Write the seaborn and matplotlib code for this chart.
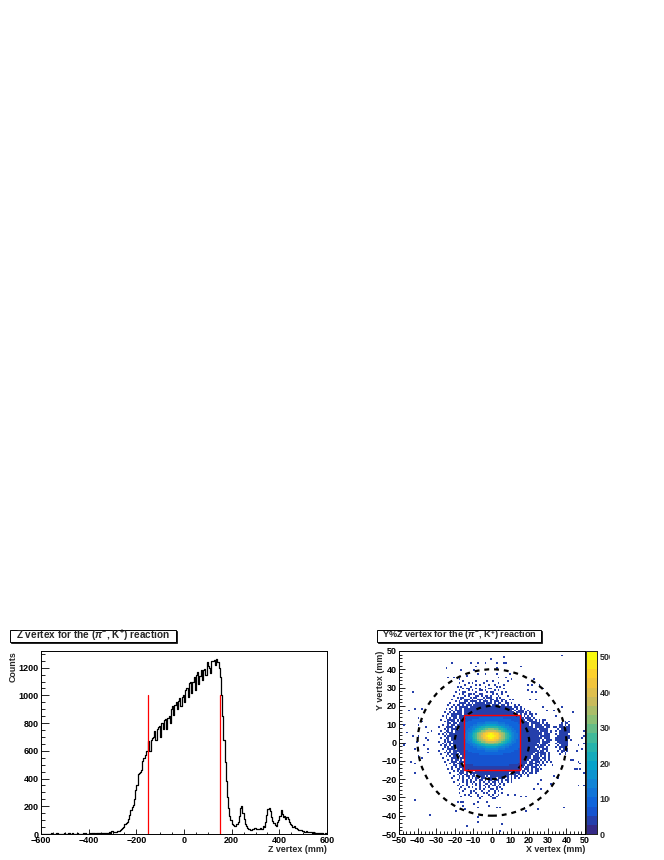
import matplotlib
matplotlib.use("Agg")
import matplotlib.pyplot as plt
import matplotlib.patches as mpatches
from matplotlib.colors import LinearSegmentedColormap
from matplotlib.ticker import MultipleLocator
from matplotlib.transforms import Bbox
import numpy as np
import seaborn as sns

# Z vertex spectrum, 5 mm bins from -600 to 600
z_counts = [
    1, 0, 2, 1, 3, 1, 0, 2, 4, 2, 1, 3, 2, 5, 1, 2, 3, 1, 2, 4,
    2, 3, 1, 4, 2, 3, 5, 2, 1, 3, 4, 2, 3, 1, 3, 4, 2, 5, 3, 2,
    4, 3, 5, 4, 6, 3, 5, 7, 4, 6, 5, 8, 6, 4, 7, 9, 6, 18, 8, 20,
    12, 15, 18, 17, 22, 25, 28, 33, 40, 52, 70, 78, 90, 108, 140, 172, 192, 210, 255, 320,
    350, 430, 440, 445, 460, 530, 550, 570, 600, 600, 670, 600, 680, 690, 700, 740, 680, 760, 770, 780,
    700, 800, 760, 820, 830, 760, 835, 850, 800, 900, 920, 860, 930, 950, 900, 960, 980, 920, 990, 1000,
    950, 1040, 1050, 990, 1090, 1095, 1020, 1100, 1130, 1040, 1150, 1170, 1080, 1140, 1180, 1110, 1185, 1190, 1150, 1240,
    1210, 1200, 1160, 1250, 1250, 1255, 1220, 1260, 1240, 1200, 1130, 1000, 850, 680, 520, 380, 270, 190, 130, 100,
    75, 65, 58, 60, 72, 85, 130, 190, 205, 150, 105, 75, 55, 42, 35, 30, 32, 38, 34, 40,
    36, 33, 38, 35, 40, 36, 55, 48, 90, 140, 180, 190, 165, 120, 95, 80, 65, 60, 85, 100,
    130, 170, 145, 120, 130, 110, 125, 105, 90, 70, 65, 50, 55, 40, 42, 35, 30, 28, 26, 22,
    20, 18, 20, 15, 14, 12, 15, 10, 12, 9, 8, 10, 7, 6, 5, 7, 4, 3, 4, 2,
]

# palette level per 1 mm bin, right half of each row from x=-1 outwards,
# rows y=14 down to y=-15 inside the red box (0-9 then a-j)
core_rows = [
    "22222222222222222", "33333332222222222", "33333333333222222", "44443333333332222",
    "55554444333333322", "77766555443333333", "99998876554433333", "ccbba998755443333",
    "eeedcca9876544333", "hhgfedcb987554333", "jihhgedca97654433", "jjihgfdca98654433",
    "jihhgedca97654433", "hhgfedcb987554333", "eeedcca9876544333", "ccbba998755443333",
    "99998876554433333", "77766555443333333", "55554444333333322", "44443333333332222",
    "33333333333222222", "33333332222222222", "22222222222222222", "22222222222222222",
    "22222222222222222", "22222222222222222", "22222222222222211", "22222222221111111",
    "11111111111111111", "11111111111111111",
]
core_center_x = -1
core_top_y = 14

# halo around the box, 1 mm bins, x=-30 onwards, rows y=33 downwards
halo_rows = [
    "..............#......#.....#..#.......#.........................",
    "............#....#.#.....#.......#..............................",
    "...............#.....#.#....#..#....#...........................",
    "...........#.#....#.......#.....#.#.............................",
    "..............#.##...#.#....##......#...........................",
    "............#....#.#...##.#....#.#..............................",
    "..........#...##.....#.....#.##....#.#..........................",
    "............#.#..##.#..##.....#.#..#............................",
    ".........#.....#.#...##.#.##.#...#....#.........................",
    "...........#.##...#.##...#.###..#.#.............................",
    "........#....#.###.#..###.#..##.#..##..#.#......................",
    "..........#.#..##.####.#.###.#.###.#.#..........................",
    ".......#....####.#.#.#####.###.#.##..##.#.......................",
    "......#..#.##.#.###.#########.####.##.#...#.#...................",
    "........#.#.#####.#######################.##.#...................",
    ".....#.#..#.##.###########################.#.#.#.................",
    "........#.####.##########################.#.###..#...............",
    "....#..#.#.###.###########################.####.#.#..............",
    "......#.######.#############################.#.##.##.#...........",
    "...#.#..###.##################################.#.#.#.............",
    ".....#.#.##.###################################.###.#............",
    "..#...####.#.###################################.###.#.#.#.......",
    "....#.#.##.#.####################################.####.#.#.......",
    "......##.##.######################################.#####.#.#.....",
    "...#..#.##.#######################################.#.####.###....",
    ".#...####.##########################################.#####.##....",
    "....#.#.###.##########################################.#####.....",
    "..#..##.#.#############################################.####.#...",
    "....#.###.###############################################.##.#...",
    ".#.#.#.##################################################.###....",
    "....#.#################################################.#####....",
    "..#..##.#################################################.###....",
    "....#.#.################################################.#.###...",
    ".#..#.##.###############################################.####....",
    "...#.#.###############################################.#.###.....",
    "..#.##.#.##############################################.###.#....",
    "....#.#.#############################################.####.#.....",
    "...#..####.###########################################.#.###.....",
    ".#...#.#.##############################################.##.#.....",
    "....#.##.##.#########################################.#####.#....",
    "..#...#.####.#######################################.##.###.#....",
    ".....#.#.##.#.#####################################.###.#.#.#.....",
    "...#....####.######################################.####.##.#....",
    "......#.#.##.#.###################################.####.#.#.#.....",
    "....#...###.###.#################################.##.###.#.#.#....",
    ".......#.#.###.#.################################.####.#.#.......",
    ".....#...##.##.###.#############################.###.##.#.#......",
    "........#.#.###.###############################.##.###.#.........",
    "......#.#..##.#.##############################.###.#.##.#........",
    ".........#.#.##.#.##.########################.##.#.#.##..........",
    ".......#....###.#.#####################.#####.#.#.##.#...........",
    "...........#.#.##.#.#.##################.##.##.#.#...............",
    ".........#..#.#.##.##.####.#.##########.#.##.#...#..............",
    "........#...#.#..#.#.##.###.####.####.#.#.#.#...................",
    "...........#..#.#.#..#.##.#.##.###.#.##.#.......................",
    ".........#....#.#.#.#..#.#..#.##.#.#..#.#.......................",
    "............#...#..#.#.#..##.#.#..#.#...........................",
    "...........#..#.#....#.#.#..#.##.#..#...........................",
    ".............#...#.#...#..#.#...#.#.............................",
    "............#..#.....#.#.#...##.#..#............................",
    "..............#...#.#...#...#..#.#..............................",
    "............#.....#..#...#.#...#...#............................",
    "...............#.#....#.....#.#..#...............................",
    ".............#....#...#.#....#..#...............................",
]
halo_left_x = -30
halo_top_y = 33

# the small lobe on the right of the target, x=33 onwards, rows y=11 downwards
lobe_rows = [
    "......#.#",
    "....#.##.",
    "...##.#.#",
    ".#.###.##",
    "..#.#####",
    ".#.######",
    "...######",
    ".#.#####.",
    "..#######",
    ".########",
    ".#######.",
    "..######.",
    ".#.#####.",
    "..#.####.",
    ".#.####..",
    "...#.###.",
    "..#.##.#.",
    "....#.#..",
    "...#..#..",
]
lobe_left_x = 33
lobe_top_y = 11

# single isolated bins (x, y), upper left, upper right, lower left, lower right
sparse_cells = [
    (-17,50),(-1,45),(-22,43),(-12,43),(-8,43),(-4,43),(-25,40),(-9,41),(-17,39),(-10,39),(-8,37),(-4,37),
    (-24,35),(-21,35),(-18,34),(-14,36),(-43,27),(-42,18),(-45,17),(-38,18),(-40,13),(-38,11),(-48,9),(-40,9),
    (-36,8),(-33,6),(-35,5),(-46,5),(-40,7),(-43,3),(-40,3),(-36,2),(-41,0),(-35,1),
    (37,47),(6,46),(2,43),(6,43),(7,43),(15,41),(2,40),(2,37),(9,37),(7,35),(10,34),(3,35),(22,34),
    (19,31),(21,31),(25,31),(27,29),(19,28),(21,27),(23,27),(20,23),(23,23),(27,19),(29,17),(43,16),(33,17),(34,14),
    (37,19),(28,12),(33,8),(49,6),(48,2),(49,3),(42,1),
    (-48,-2),(-47,-1),(-42,-4),(-42,-17),(-44,-11),(-42,-12),(-37,-2),(-35,-4),(-40,-8),(-38,-9),(-35,-6),
    (-42,-32),(-34,-40),(-17,-33),(-19,-33),(-16,-33),(-16,-35),(-20,-38),(-15,-37),(-14,-46),(-8,-36),(-8,-41),(-8,-44),
    (-10,-34),(-8,-33),(-3,-33),(0,-31),(-7,-31),(-2,-35),
    (48,-4),(49,-1),(46,-2),(45,-5),(46,-11),(47,-12),(45,-15),(47,-15),(49,-17),(44,-15),(46,-24),(49,-24),(42,-10),
    (43,-10),(38,-36),(37,-14),(33,-19),(35,-20),(31,-23),(26,-21),(24,-23),(22,-26),(26,-26),
    (8,-29),(12,-29),(18,-30),(15,-30),(1,-31),(4,-36),(2,-36),
    (17,-36),(24,-37),(18,-38),(5,-45),(4,-49),(32,-13),
]

level_codes = "0123456789abcdefghij"
z_ticks = [-600, -400, -200, 0, 200, 400, 600]
xy_ticks = list(range(-50, 51, 10))
z_cut = [-150, 150]
bird = [(0.2082, 0.1664, 0.5293), (0.0592, 0.3599, 0.8684), (0.0780, 0.5041, 0.8385),
        (0.0232, 0.6419, 0.7914), (0.1802, 0.7178, 0.6425), (0.5301, 0.7492, 0.4662),
        (0.8186, 0.7328, 0.3499), (0.9956, 0.7862, 0.1968), (0.9764, 0.9832, 0.0539)]

sns.set_theme(style="ticks")
plt.rcParams["font.family"] = ["Liberation Sans", "DejaVu Sans"]
plt.rcParams["font.weight"] = "bold"
plt.rcParams["font.size"] = 6.5
plt.rcParams["axes.linewidth"] = 0.7
plt.rcParams["mathtext.fontset"] = "custom"
plt.rcParams["mathtext.rm"] = "Liberation Sans:bold"
plt.rcParams["mathtext.it"] = "Liberation Sans:italic:bold"
plt.rcParams["mathtext.bf"] = "Liberation Sans:bold"

W, H = 664, 860
fig = plt.figure(figsize=(W / 100, H / 100), dpi=100)


def px_axes(x0, y0, x1, y1):
    # pixel box, y counted from the top of the picture
    return fig.add_axes([x0 / W, 1 - y1 / H, (x1 - x0) / W, (y1 - y0) / H])


def title_box(x0, y0, x1, y1, text, size):
    box = dict(transform=fig.transFigure, clip_on=False)
    fig.add_artist(mpatches.Rectangle(((x0 + 1) / W, 1 - (y1 + 1) / H), (x1 - x0) / W, (y1 - y0) / H,
                                      facecolor="black", edgecolor="black", lw=0.5, **box))
    fig.add_artist(mpatches.Rectangle((x0 / W, 1 - y1 / H), (x1 - x0) / W, (y1 - y0) / H,
                                      facecolor="white", edgecolor="black", lw=0.7, **box))
    fig.text((x0 + x1) / 2 / W, 1 - (y0 + y1) / 2 / H, text, ha="center", va="center",
             fontsize=size, fontweight="bold")


def style_axis(ax, xlen, ylen):
    ax.tick_params(which="both", direction="in", top=False, right=False, width=0.6,
                   labelsize=6.5, colors="black")
    ax.tick_params(axis="x", which="major", length=xlen, pad=1.5)
    ax.tick_params(axis="x", which="minor", length=xlen / 2)
    ax.tick_params(axis="y", which="major", length=ylen, pad=1.5)
    ax.tick_params(axis="y", which="minor", length=ylen / 2)
    for s in ax.spines.values():
        s.set_visible(True)
        s.set_color("black")
        s.set_linewidth(0.7)


# left panel
ax1 = px_axes(41, 651, 327, 834)
z_centers = np.arange(-600, 600, 5) + 2.5
sns.histplot(x=z_centers, weights=z_counts, bins=240, binrange=(-600, 600), element="step",
             fill=False, color="black", linewidth=0.9, ax=ax1)
for zc in z_cut:
    sns.lineplot(x=[zc, zc], y=[0, 1000], color="red", linewidth=0.9, estimator=None, ax=ax1)
ax1.set_xlim(-600, 600)
ax1.set_ylim(0, 1320)
ax1.set_xticks(z_ticks)
ax1.xaxis.set_minor_locator(MultipleLocator(50))
ax1.yaxis.set_major_locator(MultipleLocator(200))
ax1.yaxis.set_minor_locator(MultipleLocator(50))
style_axis(ax1, 3.6, 6)
ax1.set_xlabel("Z vertex (mm)", loc="right", fontsize=6.4, fontweight="bold", labelpad=0)
ax1.set_ylabel("Counts", loc="top", fontsize=6.4, fontweight="bold")
ax1.yaxis.set_label_coords(-0.08, 1.0)
title_box(9.5, 630, 176, 641.5, r"Z vertex for the ($\pi^{-}$, K$^{+}$) reaction", 7.2)

# right panel
ax2 = px_axes(399, 651, 585, 834)
cax = px_axes(586, 651, 597, 834)

grid = {}
for i, row in enumerate(halo_rows):
    for j, c in enumerate(row):
        if c == "#":
            grid[(halo_left_x + j, halo_top_y - i)] = 39
for i, row in enumerate(lobe_rows):
    for j, c in enumerate(row):
        if c == "#":
            grid[(lobe_left_x + j, lobe_top_y - i)] = 39
for cell in sparse_cells:
    grid[cell] = 39
for i, half in enumerate(core_rows):
    row = half[14:0:-1] + half[:16]
    for j, c in enumerate(row):
        grid[(core_center_x - 14 + j, core_top_y - i)] = level_codes.index(c) * 25.8 + 13

xs = [k[0] + 0.5 for k in grid]
ys = [k[1] + 0.5 for k in grid]
ws = list(grid.values())

bird_cmap = LinearSegmentedColormap.from_list("bird", bird, N=20)
sns.histplot(x=xs, y=ys, weights=ws, bins=100, binrange=((-50, 50), (-50, 50)), thresh=0,
             cmap=bird_cmap, vmin=0, vmax=516, cbar=True, cbar_ax=cax, ax=ax2)
ax2.add_patch(mpatches.Circle((0, 0), 40, fill=False, edgecolor="black", linewidth=1.6, linestyle=(0, (2.2, 2.2))))
ax2.add_patch(mpatches.Circle((0, 0), 20, fill=False, edgecolor="black", linewidth=1.6, linestyle=(0, (2.2, 2.2))))
ax2.add_patch(mpatches.Rectangle((-15, -15), 30, 30, fill=False, edgecolor="red", linewidth=1.0))
ax2.set_xlim(-50, 50)
ax2.set_ylim(-50, 50)
ax2.set_xticks(xy_ticks)
ax2.set_yticks(xy_ticks)
ax2.xaxis.set_minor_locator(MultipleLocator(2))
ax2.yaxis.set_minor_locator(MultipleLocator(2))
style_axis(ax2, 4, 4)
ax2.set_xlabel("X vertex (mm)", loc="right", fontsize=6.4, fontweight="bold", labelpad=0)
ax2.set_ylabel("Y vertex (mm)", loc="top", fontsize=6.4, fontweight="bold")
ax2.yaxis.set_label_coords(-0.075, 1.0)
title_box(377, 629.5, 541, 641.5, r"Y%Z vertex for the ($\pi^{-}$, K$^{+}$) reaction", 6.6)

cax.set_yticks([0, 100, 200, 300, 400, 500])
cax.tick_params(axis="y", direction="in", right=True, length=4, width=0.7, pad=2, labelsize=6.5)
cax.tick_params(which="minor", length=0)
for s in cax.spines.values():
    s.set_visible(True)
    s.set_linewidth(0.7)
# the palette labels are cut by the pad edge
clip = Bbox([[0, 0], [610, H]])
for lab in cax.get_yticklabels():
    lab.set_clip_on(True)
    lab.set_clip_box(clip)

fig.savefig("out.png", dpi=100, facecolor="white")
